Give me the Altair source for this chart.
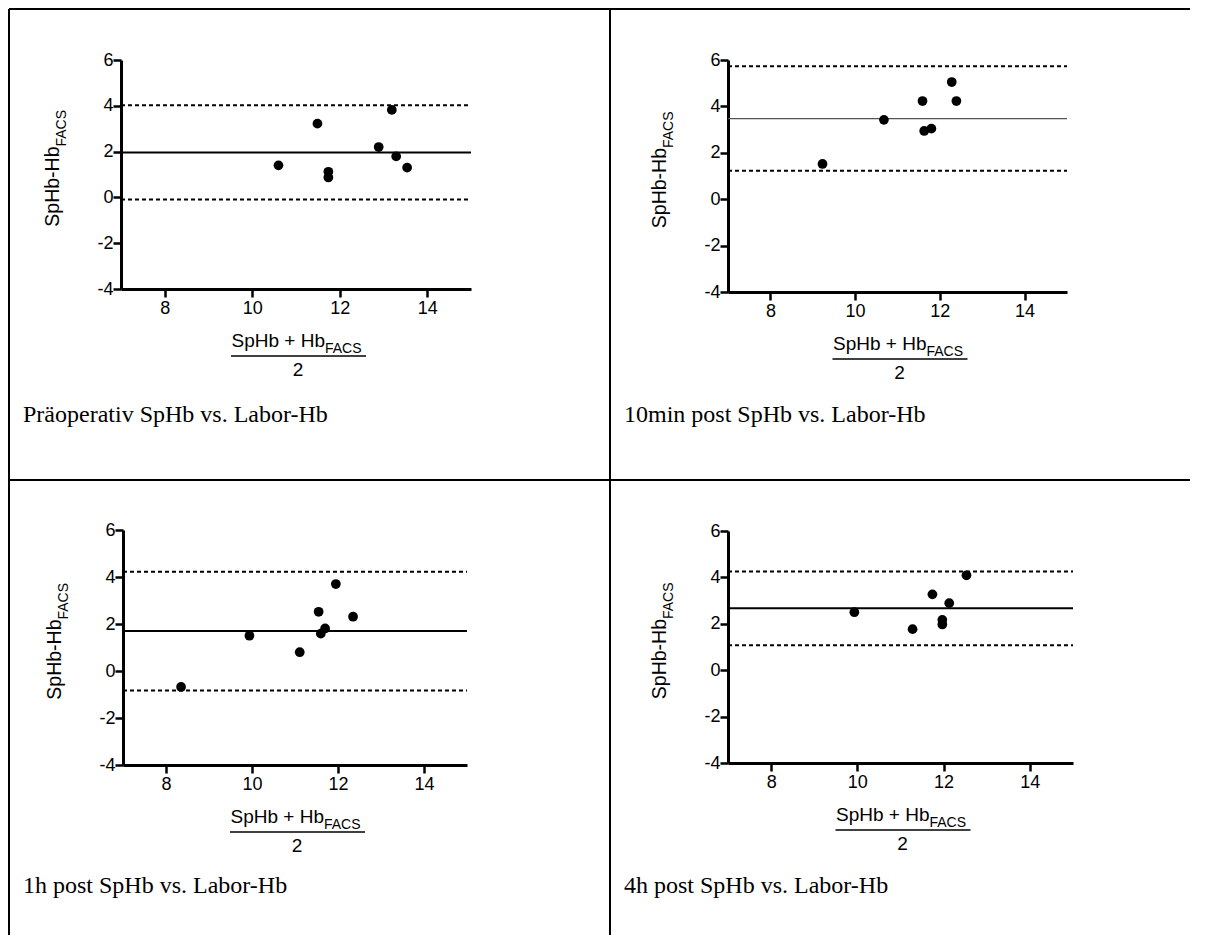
import altair as alt
import pandas as pd

# ---------------- data ----------------
X_DOMAIN = [7, 15]
Y_DOMAIN = [-4, 6]
X_TICKS = [8, 10, 12, 14]
Y_TICKS = [-4, -2, 0, 2, 4, 6]

captions = [
    "Präoperativ SpHb vs. Labor-Hb",
    "10min post SpHb vs. Labor-Hb",
    "1h post SpHb vs. Labor-Hb",
    "4h post SpHb vs. Labor-Hb",
]

p1_x = [10.6, 11.49, 11.74, 11.74, 12.89, 13.19, 13.29, 13.54]
p1_y = [1.4, 3.22, 1.12, 0.87, 2.2, 3.82, 1.79, 1.3]
p1_lines = [1.96, 4.02, -0.09]   # bias, upper, lower

p2_x = [9.23, 10.68, 11.59, 11.63, 11.8, 12.28, 12.39]
p2_y = [1.52, 3.42, 4.23, 2.94, 3.04, 5.05, 4.23]
p2_lines = [3.47, 5.73, 1.23]

p3_x = [8.35, 9.94, 11.11, 11.55, 11.6, 11.7, 11.95, 12.35]
p3_y = [-0.68, 1.5, 0.8, 2.52, 1.59, 1.81, 3.7, 2.31]
p3_lines = [1.7, 4.22, -0.83]

p4_x = [9.93, 11.28, 11.74, 11.97, 11.97, 12.13, 12.53]
p4_y = [2.5, 1.77, 3.27, 2.17, 1.97, 2.89, 4.09]
p4_lines = [2.67, 4.25, 1.08]

# ---------------- styling / layout ----------------
SANS = "Liberation Sans"
SERIF = "Liberation Serif"

# cell_w, cell_h, left, top, plot_w, plot_h, mean color, mean width
layouts = [
    (601, 471, 112, 51, 350, 229, "black", 2),
    (580, 471, 118, 51, 339, 232, "#555555", 1.2),
    (601, 455, 114, 50, 344, 235, "black", 2),
    (580, 455, 118, 51, 345, 232, "black", 2),
]


def make_panel(xs, ys, lines, caption, lay):
    cw, ch, left, top, pw, ph, mcol, mw = lay
    xscale = alt.Scale(domain=X_DOMAIN, range=[left, left + pw], nice=False, zero=False)
    yscale = alt.Scale(domain=Y_DOMAIN, range=[top + ph, top], nice=False, zero=False)
    axis_common = dict(
        title=None, grid=False, domainColor="black", domainWidth=3,
        tickColor="black", tickWidth=2.5, tickSize=8, labelFont=SANS,
        labelFontSize=18, labelColor="black", labelExpr="'' + datum.value",
    )
    xaxis = alt.Axis(values=X_TICKS, offset=-(ch - (top + ph)), labelPadding=2, **axis_common)
    yaxis = alt.Axis(values=Y_TICKS, offset=-left, labelPadding=0, **axis_common)

    X = lambda f: alt.X(f, scale=xscale, axis=xaxis)
    Y = lambda f: alt.Y(f, scale=yscale, axis=yaxis)

    pts = pd.DataFrame({"m": xs, "d": ys})
    points = alt.Chart(pts).mark_circle(size=95, color="black", opacity=1).encode(
        x=X("m:Q"), y=Y("d:Q")
    )

    mean_df = pd.DataFrame({"x0": [X_DOMAIN[0]], "x1": [X_DOMAIN[1]], "v": [lines[0]]})
    lim_df = pd.DataFrame({"x0": [X_DOMAIN[0]] * 2, "x1": [X_DOMAIN[1]] * 2, "v": lines[1:]})
    mean_rule = alt.Chart(mean_df).mark_rule(color=mcol, strokeWidth=mw).encode(
        x=X("x0:Q"), x2="x1:Q", y=Y("v:Q")
    )
    lim_rule = alt.Chart(lim_df).mark_rule(color="black", strokeWidth=2, strokeDash=[4, 3]).encode(
        x=X("x0:Q"), x2="x1:Q", y=Y("v:Q")
    )

    one = pd.DataFrame({"a": [0]})
    cx = left + pw / 2
    cy = top + ph / 2
    bottom = top + ph

    # y-axis title with subscript
    ytit = alt.Chart(one).mark_text(
        text="SpHb-Hb", font=SANS, fontSize=19.5, angle=270, align="right", baseline="alphabetic", color="black"
    ).encode(x=alt.value(left - 62), y=alt.value(cy - 28))
    ysub = alt.Chart(one).mark_text(
        text="FACS", font=SANS, fontSize=14, angle=270, align="left", baseline="alphabetic", color="black"
    ).encode(x=alt.value(left - 55), y=alt.value(cy - 28))

    # x-axis title as fraction
    xtit = alt.Chart(one).mark_text(
        text="SpHb + Hb", font=SANS, fontSize=19, align="right", baseline="alphabetic", color="black"
    ).encode(x=alt.value(cx + 29), y=alt.value(bottom + 58))
    xsub = alt.Chart(one).mark_text(
        text="FACS", font=SANS, fontSize=14, align="left", baseline="alphabetic", color="black"
    ).encode(x=alt.value(cx + 29), y=alt.value(bottom + 64))
    frac = alt.Chart(one).mark_rule(color="black", strokeWidth=1.3).encode(
        x=alt.value(cx - 65), x2=alt.value(cx + 70), y=alt.value(bottom + 67)
    )
    two = alt.Chart(one).mark_text(
        text="2", font=SANS, fontSize=19, align="center", baseline="alphabetic", color="black"
    ).encode(x=alt.value(cx + 2), y=alt.value(bottom + 87))

    cap = alt.Chart(one).mark_text(
        text=caption, font=SERIF, fontSize=24, align="left", baseline="alphabetic", color="black"
    ).encode(x=alt.value(14), y=alt.value(413))

    btop = alt.Chart(one).mark_rule(color="black", strokeWidth=2).encode(
        x=alt.value(0), x2=alt.value(cw), y=alt.value(0)
    )
    bleft = alt.Chart(one).mark_rule(color="black", strokeWidth=2).encode(
        x=alt.value(0), y=alt.value(0), y2=alt.value(ch)
    )

    return alt.layer(
        lim_rule, mean_rule, points, ytit, ysub, xtit, xsub, frac, two, cap, btop, bleft
    ).properties(width=cw, height=ch)


panels = [
    make_panel(p1_x, p1_y, p1_lines, captions[0], layouts[0]),
    make_panel(p2_x, p2_y, p2_lines, captions[1], layouts[1]),
    make_panel(p3_x, p3_y, p3_lines, captions[2], layouts[2]),
    make_panel(p4_x, p4_y, p4_lines, captions[3], layouts[3]),
]

chart = alt.concat(*panels, columns=2, spacing=0, bounds="flush").properties(
    padding=0, background="white"
).configure_view(stroke=None)

chart.save("out.html", embed_options={"renderer": "svg", "actions": False})
